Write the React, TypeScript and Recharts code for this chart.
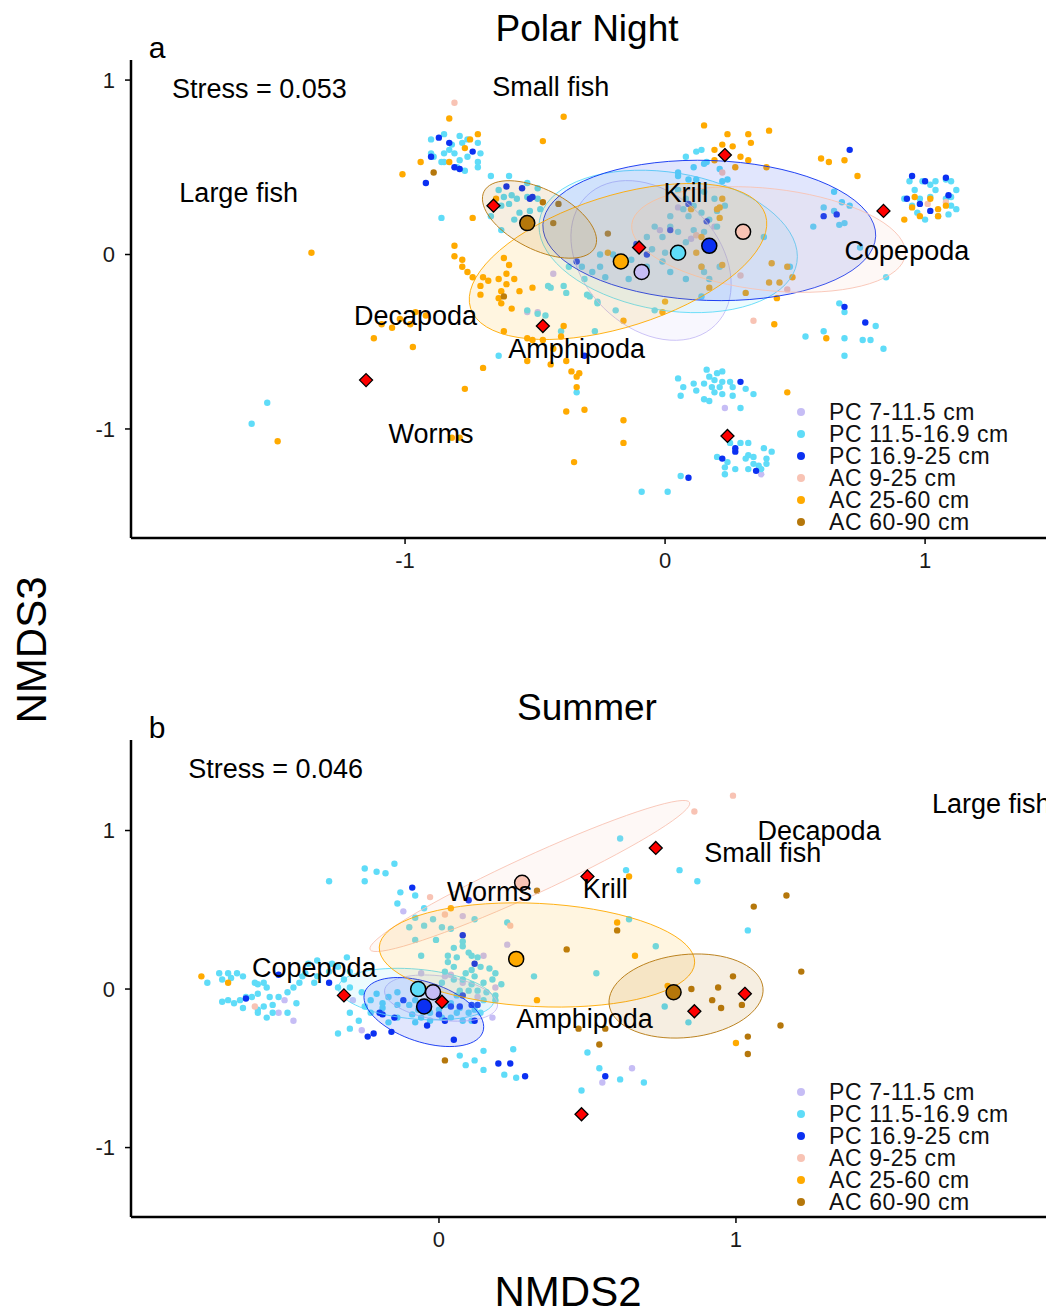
import { ScatterChart, Scatter, XAxis, YAxis, Legend } from "recharts";

type Pt = [number, number];
// ellipse: centre x, centre y, first semi-axis (x, y), second semi-axis (x, y) in data units
type Ell = [number, number, number, number, number, number];

const FONT = '"Liberation Sans", Arial, Helvetica, sans-serif';

const groupNames = ["PC 7-11.5 cm", "PC 11.5-16.9 cm", "PC 16.9-25 cm", "AC 9-25 cm", "AC 25-60 cm", "AC 60-90 cm"];
const groupColors = ["#c6bdf5", "#5fdcf8", "#0b30f2", "#f8c3b4", "#ffaa00", "#b5770b"];

// ---------- a: Polar Night ----------
const nightPC7: Pt[] = [
  [-0.43, -0.11], [-0.53, -0.33], [-0.49, -0.33], [0.05, 0.27], [0.19, 0.16], [0.10, 0.09], [-0.02, 0.14],
  [0.23, -0.88], [0.37, -1.26],
];
const nightPC11: Pt[] = [
  [-0.90, 0.66], [-0.85, 0.69], [-0.82, 0.63], [-0.79, 0.68], [-0.78, 0.64], [-0.76, 0.66], [-0.72, 0.64],
  [-0.71, 0.58], [-0.72, 0.53], [-0.72, 0.50], [-0.76, 0.56], [-0.79, 0.54], [-0.81, 0.58], [-0.83, 0.60],
  [-0.85, 0.58], [-0.85, 0.53], [-0.86, 0.53], [-0.89, 0.56], [-0.90, 0.58], [-0.80, 0.50], [-0.77, 0.48],
  [-0.86, 0.21],
  [-0.67, 0.45], [-0.60, 0.45], [-0.53, 0.41], [-0.49, 0.38], [-0.64, 0.37], [-0.62, 0.33], [-0.59, 0.34],
  [-0.57, 0.32], [-0.53, 0.33], [-0.49, 0.32], [-0.60, 0.29], [-0.63, 0.28], [-0.56, 0.24], [-0.52, 0.25],
  [-0.58, 0.20], [-0.63, 0.14], [-0.53, 0.16], [-0.67, 0.22], [-0.48, 0.26],
  [-0.53, -0.32], [-0.49, -0.34], [-0.46, -0.35], [-0.45, -0.18], [-0.39, -0.18], [-0.30, -0.23], [-0.27, -0.44],
  [-0.40, -0.44], [-0.25, 0.00], [-0.20, 0.00], [-0.26, -0.27], [-0.64, -0.58], [-1.53, -0.85], [-1.59, -0.97],
  [-0.34, -0.79],
  [0.05, 0.37], [0.09, 0.43], [0.12, 0.43], [0.11, 0.28], [0.07, 0.26], [0.02, 0.22], [0.09, 0.22], [0.14, 0.24],
  [0.17, 0.20], [0.20, 0.25], [0.02, 0.16], [-0.04, 0.16], [-0.07, 0.10], [-0.01, 0.10], [0.05, 0.13], [0.11, 0.14],
  [0.15, 0.13], [0.08, 0.07], [0.00, 0.01], [-0.05, 0.03], [-0.11, 0.05], [-0.13, -0.03], [-0.19, -0.03],
  [-0.25, -0.07], [-0.28, -0.10], [-0.32, -0.07], [-0.23, -0.13], [-0.07, -0.07], [0.08, -0.14], [0.15, -0.10],
  [0.21, -0.07], [0.14, -0.07], [-0.01, -0.04], [-0.37, -0.07], [-0.31, -0.14], [-0.14, -0.14], [0.02, -0.10],
  [0.20, 0.16], [0.23, 0.28], [0.19, 0.32], [0.15, 0.36], [0.05, 0.45], [0.08, 0.32], [-0.38, -0.22],
  [-0.44, -0.19], [-0.29, -0.24], [-0.26, -0.28], [-0.19, -0.32], [-0.04, -0.32], [0.14, -0.24], [0.17, -0.14],
  [0.38, 0.10], [0.48, -0.07],
  [0.08, 0.56], [0.12, 0.59], [0.16, 0.53], [0.11, 0.50], [0.05, 0.47], [0.24, 0.43], [0.21, 0.49], [0.14, 0.60],
  [0.22, 0.42], [0.15, 0.52],
  [0.65, 0.36], [0.68, 0.30], [0.61, 0.27], [0.65, 0.25], [0.71, 0.28], [0.67, 0.17], [0.69, 0.18], [0.57, 0.16],
  [0.75, 0.04], [0.85, -0.13], [0.67, -0.28], [0.69, -0.33], [0.81, -0.41], [0.79, -0.49], [0.76, -0.49],
  [0.69, -0.48], [0.61, -0.44], [0.54, -0.47], [0.84, -0.54], [0.69, -0.58],
  [0.94, 0.42], [0.96, 0.37], [0.99, 0.42], [1.02, 0.40], [1.04, 0.42], [1.08, 0.43], [1.10, 0.42], [1.12, 0.37],
  [1.10, 0.33], [1.08, 0.32], [1.10, 0.28], [1.12, 0.26], [1.09, 0.23], [1.05, 0.22], [1.00, 0.20], [0.97, 0.24],
  [0.95, 0.28], [0.92, 0.32], [1.04, 0.37], [1.02, 0.33], [0.98, 0.32],
  [0.16, -0.66], [0.22, -0.67], [0.20, -0.68], [0.17, -0.70], [0.19, -0.72], [0.22, -0.73], [0.25, -0.73],
  [0.15, -0.74], [0.18, -0.76], [0.21, -0.76], [0.26, -0.76], [0.05, -0.71], [0.07, -0.76], [0.11, -0.74],
  [0.12, -0.78], [0.15, -0.83], [0.17, -0.84], [0.19, -0.79], [0.22, -0.80], [0.26, -0.81], [0.31, -0.77],
  [0.34, -0.80], [0.06, -0.81], [0.29, -0.88],
  [0.29, -1.08], [0.32, -1.08], [0.38, -1.11], [0.41, -1.13], [0.32, -1.15], [0.31, -1.17], [0.34, -1.16],
  [0.39, -1.17], [0.39, -1.20], [0.36, -1.21], [0.34, -1.20], [0.37, -1.23], [0.32, -1.23], [0.27, -1.23],
  [0.23, -1.22], [0.24, -1.19], [0.20, -1.16], [0.25, -1.08], [0.23, -1.26], [0.06, -1.27], [0.01, -1.36],
  [-0.09, -1.36],
];
const nightPC16: Pt[] = [
  [-0.87, 0.67], [-0.83, 0.64], [-0.74, 0.59], [-0.90, 0.56], [-0.81, 0.50], [-0.79, 0.49], [-0.92, 0.41],
  [-0.61, 0.39], [-0.55, 0.38], [-0.52, 0.32], [-0.51, 0.33], [-0.31, -0.58], [-0.34, -0.04], [-0.11, 0.06],
  [-0.07, 0.00], [0.02, 0.14], [0.09, 0.29], [0.16, 0.19], [0.71, 0.60], [0.61, 0.22], [0.66, 0.23],
  [0.69, -0.30], [0.77, -0.39], [0.95, 0.45], [1.00, 0.42], [1.08, 0.44], [1.09, 0.34], [0.93, 0.32],
  [0.98, 0.29], [1.02, 0.25], [0.29, -0.73], [0.27, -1.11], [0.27, -1.13], [0.22, -1.17], [0.35, -1.24],
  [0.09, -1.28],
];
const nightAC9: Pt[] = [
  [-0.81, 0.87], [0.22, 0.47], [0.29, -0.12], [0.47, -0.20], [0.34, -0.38], [0.12, 0.11], [1.01, 0.29], [1.08, 0.30],
];
const nightAC25: Pt[] = [
  [-0.72, 0.69], [-0.75, 0.66], [-0.77, 0.61], [-0.94, 0.53], [-1.01, 0.46], [-0.83, 0.53], [-0.83, 0.78],
  [-0.47, 0.65], [-0.39, 0.79], [0.15, 0.74], [-1.36, 0.01], [-0.74, 0.21], [-0.65, 0.32],
  [-0.81, 0.05], [-0.81, -0.01], [-0.78, -0.03], [-0.78, -0.07], [-0.76, -0.10], [-0.74, -0.13], [-0.70, -0.13],
  [-0.68, -0.15], [-0.71, -0.18], [-0.71, -0.23], [-0.64, -0.14], [-0.62, -0.02], [-0.60, -0.06], [-0.61, -0.11],
  [-0.58, -0.14], [-0.61, -0.17], [-0.63, -0.21], [-0.64, -0.25], [-0.63, -0.28], [-0.56, -0.21], [-0.51, -0.19],
  [-0.59, -0.31], [-0.62, -0.44], [-0.53, -0.48], [-0.51, -0.49], [-0.47, -0.49], [-0.39, -0.41], [-0.40, -0.47],
  [-0.43, -0.54], [-0.53, -0.61], [-0.44, -0.63], [-0.38, -0.61], [-0.36, -0.67], [-0.34, -0.70], [-0.33, -0.68],
  [-0.34, -0.76], [-0.38, -0.90], [-0.31, -0.89], [-0.16, -0.95], [-0.16, -1.08], [-0.35, -1.19], [-0.16, -0.38],
  [-0.70, -0.65], [-0.77, -0.77], [-0.97, -0.53], [-1.12, -0.48], [-1.09, -0.40], [-1.05, -0.42], [-0.98, -0.40],
  [-1.02, -0.37], [-0.96, -0.33], [-0.92, -0.35], [-1.49, -1.07], [-0.82, -1.05], [-0.79, -1.05],
  [-0.22, 0.01], [0.12, 0.01], [0.21, 0.27], [0.21, 0.21], [0.14, -0.07], [0.17, -0.19], [0.00, -0.27], [-0.01, -0.33],
  [0.24, 0.69], [0.32, 0.69], [0.40, 0.71], [0.19, 0.60], [0.22, 0.63], [0.26, 0.62], [0.29, 0.56], [0.33, 0.64],
  [0.32, 0.54], [0.19, 0.54], [0.27, 0.50], [0.39, 0.50], [0.60, 0.55], [0.63, 0.53], [0.69, 0.54], [0.74, 0.45],
  [0.22, 0.32], [0.10, 0.26], [0.20, 0.26], [0.14, 0.10], [0.17, 0.03], [0.22, -0.06], [0.41, -0.05], [0.47, -0.07],
  [0.49, -0.13], [0.40, -0.16], [0.44, -0.16], [0.31, -0.22], [0.43, -0.25], [0.62, -0.48], [0.42, -0.40],
  [0.92, 0.20], [0.96, 0.33], [0.95, 0.27], [1.05, 0.26], [1.05, 0.22], [1.02, 0.32], [1.08, 0.28], [0.98, 0.22],
  [0.47, -0.79],
];
const nightAC60: Pt[] = [
  [-0.89, 0.47], [-0.47, 0.30], [-0.41, 0.29], [-0.43, 0.18], [-0.22, 0.12], [-0.62, -0.24],
];
const nightCentroids: Pt[] = [[-0.09, -0.10], [0.05, 0.01], [0.17, 0.05], [0.30, 0.13], [-0.17, -0.04], [-0.53, 0.18]];
const nightEllipses: Ell[] = [
  [-0.054, -0.034, 0.248, -0.369, -0.183, -0.271],
  [0.012, 0.075, 0.495, -0.121, -0.043, -0.390],
  [0.170, 0.138, 0.640, -0.033, -0.010, -0.401],
  [0.398, 0.086, 0.526, -0.087, -0.022, -0.290],
  [-0.181, -0.040, 0.567, 0.268, 0.077, -0.358],
  [-0.483, 0.201, 0.213, -0.161, -0.053, -0.153],
];
const nightPrey: Pt[] = [[-0.66, 0.28], [-0.10, 0.04], [0.23, 0.57], [0.84, 0.25], [-0.47, -0.41], [-1.15, -0.72], [0.24, -1.04]];
const nightLabels = ["Stress = 0.053", "Small fish", "Large fish", "Krill", "Copepoda", "Decapoda", "Amphipoda", "Worms"];
const nightLabelPos: Pt[] = [[-1.56, 0.95], [-0.44, 0.96], [-1.64, 0.35], [0.08, 0.35], [0.93, 0.02], [-0.96, -0.35], [-0.34, -0.54], [-0.90, -1.03]];

// ---------- b: Summer ----------
const summerPC7: Pt[] = [
  [-0.54, -0.15], [-0.49, -0.20], [-0.52, -0.07], [-0.29, -0.07], [-0.26, -0.26], [-0.12, 0.49], [0.08, 0.46],
  [0.23, 0.28], [0.15, 0.21], [0.19, 0.01], [0.18, -0.18], [0.04, 0.09], [0.02, 0.08], [-0.06, 0.10], [0.13, -0.05],
  [0.00, -0.05], [0.08, 0.04], [0.65, -0.50], [0.55, -0.59],
];
const summerPC11: Pt[] = [
  [-0.74, 0.10], [-0.71, 0.10], [-0.68, 0.10], [-0.78, 0.04], [-0.73, 0.06], [-0.70, 0.07], [-0.66, 0.08],
  [-0.62, 0.04], [-0.59, 0.04], [-0.58, 0.01], [-0.61, -0.03], [-0.63, -0.05], [-0.57, -0.05], [-0.54, -0.05],
  [-0.51, -0.02], [-0.49, 0.01], [-0.48, -0.09], [-0.47, 0.04], [-0.46, 0.08], [-0.73, -0.08], [-0.71, -0.07],
  [-0.69, -0.09], [-0.67, -0.07], [-0.66, -0.12], [-0.61, -0.13], [-0.61, -0.15], [-0.58, -0.18], [-0.56, -0.15],
  [-0.51, -0.15], [-0.65, -0.05], [-0.59, -0.11], [-0.56, -0.10], [-0.61, 0.03], [-0.45, 0.10], [-0.41, 0.08],
  [-0.42, 0.04], [-0.44, 0.16], [-0.41, 0.18], [-0.36, 0.16], [-0.34, 0.14], [-0.31, 0.20], [-0.30, 0.11],
  [-0.32, 0.06], [-0.34, 0.01], [-0.37, 0.11],
  [-0.21, -0.03], [-0.17, -0.05], [-0.19, -0.09], [-0.14, -0.02], [-0.14, -0.10], [-0.10, -0.10], [-0.08, -0.07],
  [-0.07, -0.02], [-0.07, -0.13], [-0.05, -0.11], [-0.03, -0.15], [0.00, -0.13], [0.02, -0.10], [0.04, -0.09],
  [0.06, -0.15], [0.07, -0.12], [0.10, -0.15], [0.12, -0.13], [0.14, -0.15], [0.08, -0.20], [0.11, -0.20],
  [0.04, -0.18], [0.01, -0.18], [-0.03, -0.20], [-0.06, -0.18], [-0.09, -0.16], [-0.14, -0.18], [-0.17, -0.21],
  [-0.23, -0.15], [-0.25, -0.11], [-0.23, -0.07], [-0.26, -0.02], [-0.30, 0.01], [-0.30, -0.15], [-0.27, -0.20],
  [-0.34, -0.28], [-0.30, -0.25], [-0.19, -0.12], [-0.08, -0.21], [0.10, -0.01], [0.15, 0.04], [0.18, 0.06],
  [0.16, -0.02], [0.19, -0.04], [0.15, -0.07], [0.11, 0.03], [0.13, -0.01], [0.07, -0.01], [0.19, -0.07],
  [0.21, 0.03], [0.06, -0.04],
  [-0.10, 0.39], [-0.08, 0.31], [-0.05, 0.40], [-0.02, 0.44], [0.01, 0.39], [0.04, 0.38], [0.12, 0.44],
  [0.08, 0.30], [-0.01, 0.31], [0.05, 0.26], [0.08, 0.27], [0.10, 0.23], [0.06, 0.20], [0.03, 0.21], [0.03, 0.17],
  [0.11, 0.21], [0.13, 0.20], [0.14, 0.14], [0.11, 0.12], [0.12, 0.08], [0.09, 0.10], [0.05, 0.14], [0.02, 0.11],
  [0.05, 0.06], [0.08, 0.06], [0.17, 0.13], [0.19, 0.10], [-0.14, 0.54], [-0.13, 0.61], [-0.08, 0.59],
  [-0.05, 0.51], [-0.08, 0.45], [0.01, 0.04], [-0.06, 0.21],
  [-0.37, 0.68], [-0.25, 0.68], [-0.25, 0.76], [-0.21, 0.74], [-0.18, 0.73], [-0.15, 0.79],
  [0.07, -0.42], [0.15, -0.39], [0.25, -0.38], [0.09, -0.48], [0.12, -0.45],
  [0.61, 0.95], [0.63, 0.75], [0.81, 0.75], [0.87, 0.68], [1.04, 0.37], [0.64, 0.44], [0.23, 0.42], [0.73, 0.27],
  [0.53, 0.10], [0.32, 0.08], [0.76, -0.11], [0.84, -0.21], [0.50, -0.40], [0.54, -0.50], [0.61, -0.57],
  [0.69, -0.59], [0.48, -0.64], [0.22, -0.54], [0.26, -0.56], [0.15, -0.51],
];
const summerPC16: Pt[] = [
  [-0.65, -0.06], [-0.54, 0.09], [-0.37, 0.04], [-0.24, -0.30], [-0.22, -0.28], [-0.16, -0.27], [0.05, -0.32],
  [0.08, 0.34], [-0.09, 0.64], [0.10, 0.56], [0.12, 0.16], [0.13, -0.10], [0.12, -0.20], [-0.04, -0.23],
  [0.02, -0.20], [0.08, -0.04], [0.04, -0.11], [0.07, -0.11], [0.20, -0.47], [0.24, -0.47], [-0.20, -0.15],
  [-0.19, -0.16], [-0.15, -0.18], [-0.12, -0.07], [0.00, -0.16], [0.11, -0.10], [0.29, -0.55], [0.56, -0.55],
];
const summerAC9: Pt[] = [[-0.62, -0.11], [-0.03, 0.58], [0.02, 0.47], [0.24, 0.40], [0.99, 1.22], [0.86, 1.12]];
const summerAC25: Pt[] = [
  [-0.80, 0.08], [-0.71, 0.04], [0.04, 0.51], [0.33, -0.07], [0.64, 0.71], [0.60, 0.42], [0.66, 0.21], [0.77, 0.02],
  [1.00, -0.34],
];
const summerAC60: Pt[] = [
  [0.33, 0.62], [1.17, 0.59], [1.06, 0.52], [0.60, 0.37], [0.43, 0.25], [1.22, 0.11], [0.99, 0.08], [0.94, 0.01],
  [0.85, 0.00], [0.92, -0.07], [0.95, -0.12], [1.02, -0.10], [1.15, -0.23], [1.04, -0.30], [1.04, -0.41],
  [0.54, -0.35], [0.47, -0.25], [0.56, -0.25], [0.02, -0.45],
];
const summerCentroids: Pt[] = [[-0.02, -0.02], [-0.07, 0.00], [-0.05, -0.11], [0.28, 0.67], [0.26, 0.19], [0.79, -0.02]];
const summerEllipses: Ell[] = [
  [0.007, -0.057, 0.190, -0.050, -0.010, -0.137],
  [-0.077, -0.032, 0.262, -0.043, -0.007, -0.157],
  [-0.051, -0.145, 0.199, -0.124, -0.032, -0.179],
  [0.306, 0.713, 0.538, 0.464, 0.027, -0.109],
  [0.330, 0.215, 0.531, -0.050, -0.009, -0.325],
  [0.832, -0.044, 0.259, 0.053, 0.015, -0.260],
];
const summerPrey: Pt[] = [[-0.32, -0.04], [0.01, -0.08], [0.50, 0.71], [0.73, 0.89], [0.86, -0.14], [1.03, -0.03], [0.48, -0.79]];
const summerLabels = ["Stress = 0.046", "Large fish", "Decapoda", "Small fish", "Krill", "Worms", "Copepoda", "Amphipoda"];
const summerLabelPos: Pt[] = [[-0.55, 1.39], [1.86, 1.17], [1.28, 1.0], [1.09, 0.86], [0.56, 0.63], [0.17, 0.61], [-0.42, 0.13], [0.49, -0.19]];

const toXY = (pts: Pt[]) => pts.map(([x, y]) => ({ x, y }));

function outline(e: Ell) {
  const [cx, cy, ux, uy, vx, vy] = e;
  const out: { x: number; y: number }[] = [];
  for (let i = 0; i < 72; i++) {
    const t = (i / 72) * Math.PI * 2;
    out.push({ x: cx + ux * Math.cos(t) + vx * Math.sin(t), y: cy + uy * Math.cos(t) + vy * Math.sin(t) });
  }
  return out;
}

const dot = (color: string) => (p: any) => <circle cx={p.cx} cy={p.cy} r={3.2} fill={color} />;
const centroid = (color: string) => (p: any) => (
  <circle cx={p.cx} cy={p.cy} r={7.5} fill={color} stroke="#000" strokeWidth={1.5} />
);
const diamond = (p: any) => (
  <polygon
    points={`${p.cx},${p.cy - 6.5} ${p.cx + 6.5},${p.cy} ${p.cx},${p.cy + 6.5} ${p.cx - 6.5},${p.cy}`}
    fill="#ff0000"
    stroke="#000"
    strokeWidth={1.3}
  />
);
const textMark = (p: any) => (
  <text x={p.cx} y={p.cy} textAnchor="middle" dominantBaseline="central" fontSize={27} fontFamily={FONT} fill="#000">
    {p.payload.name}
  </text>
);

const renderLegend = (props: any) => {
  const items = (props.payload || [])
    .filter((e: any) => groupNames.includes(e.value))
    .sort((a: any, b: any) => groupNames.indexOf(a.value) - groupNames.indexOf(b.value));
  return (
    <div style={{ fontFamily: FONT }}>
      {items.map((e: any) => (
        <div key={e.value} style={{ display: "flex", alignItems: "center", height: 22 }}>
          <span style={{ width: 8, height: 8, borderRadius: 4, background: e.color, marginLeft: 5, marginRight: 24 }} />
          <span style={{ fontSize: 23, letterSpacing: 0.6, lineHeight: "22px", color: "#111", whiteSpace: "nowrap" }}>{e.value}</span>
        </div>
      ))}
    </div>
  );
};

interface PanelProps {
  top: number;
  bottomMargin: number;
  xDomain: [number, number];
  yDomain: [number, number];
  xTicks: number[];
  yTicks: number[];
  groups: Pt[][];
  centroids: Pt[];
  ellipses: Ell[];
  prey: Pt[];
  labels: string[];
  labelPos: Pt[];
}

function Panel({ top, bottomMargin, xDomain, yDomain, xTicks, yTicks, groups, centroids, ellipses, prey, labels, labelPos }: PanelProps) {
  const tick = { fill: "#1a1a1a", fontSize: 22, fontFamily: FONT };
  const labelData = labels.map((name, i) => ({ name, x: labelPos[i][0], y: labelPos[i][1] }));
  return (
    <div style={{ position: "absolute", left: 0, top }}>
      <ScatterChart width={1046} height={600} margin={{ top: 60, right: 0, bottom: bottomMargin, left: 81 }}>
        <XAxis
          type="number" dataKey="x" domain={xDomain} ticks={xTicks} allowDataOverflow height={40}
          axisLine={{ stroke: "#000", strokeWidth: 2.5 }} tickLine={{ stroke: "#000", strokeWidth: 1.5 }}
          tickSize={6} tickMargin={8} tick={tick}
        />
        <YAxis
          type="number" dataKey="y" domain={yDomain} ticks={yTicks} allowDataOverflow width={50}
          axisLine={{ stroke: "#000", strokeWidth: 2.5 }} tickLine={{ stroke: "#000", strokeWidth: 1.5 }}
          tickSize={6} tickMargin={10} tick={tick}
        />
        {groups.map((g, i) => (
          <Scatter key={`pts${i}`} name={groupNames[i]} data={toXY(g)} fill={groupColors[i]} shape={dot(groupColors[i])} isAnimationActive={false} />
        ))}
        {ellipses.map((e, i) => (
          <Scatter
            key={`ell${i}`} name={`ellipse ${i}`} data={outline(e)} legendType="none" shape={() => <g />}
            line={{ fill: groupColors[i], fillOpacity: 0.12, stroke: groupColors[i], strokeWidth: 1, strokeOpacity: 0.9 }}
            lineType="joint" lineJointType="linearClosed" isAnimationActive={false}
          />
        ))}
        {centroids.map((c, i) => (
          <Scatter key={`cen${i}`} name={`centroid ${i}`} data={toXY([c])} legendType="none" shape={centroid(groupColors[i])} isAnimationActive={false} />
        ))}
        <Scatter name="prey" data={toXY(prey)} legendType="none" shape={diamond} isAnimationActive={false} />
        <Scatter name="labels" data={labelData} legendType="none" shape={textMark} isAnimationActive={false} />
        <Legend
          layout="vertical" align="center" verticalAlign="middle" content={renderLegend}
          wrapperStyle={{ left: 792, top: 401, width: 254 }}
        />
      </ScatterChart>
    </div>
  );
}

export default function App() {
  return (
    <div style={{ position: "absolute", left: 0, top: 0, width: 1046, height: 1315, background: "#fff", overflow: "hidden" }}>
      <Panel
        top={0} bottomMargin={22}
        xDomain={[-2.054, 1.465]} yDomain={[-1.625, 1.115]} xTicks={[-1, 0, 1]} yTicks={[-1, 0, 1]}
        groups={[nightPC7, nightPC11, nightPC16, nightAC9, nightAC25, nightAC60]}
        centroids={nightCentroids} ellipses={nightEllipses} prey={nightPrey}
        labels={nightLabels} labelPos={nightLabelPos}
      />
      <Panel
        top={680} bottomMargin={23}
        xDomain={[-1.037, 2.044]} yDomain={[-1.438, 1.571]} xTicks={[0, 1]} yTicks={[-1, 0, 1]}
        groups={[summerPC7, summerPC11, summerPC16, summerAC9, summerAC25, summerAC60]}
        centroids={summerCentroids} ellipses={summerEllipses} prey={summerPrey}
        labels={summerLabels} labelPos={summerLabelPos}
      />
      <svg width={1046} height={1315} style={{ position: "absolute", left: 0, top: 0, pointerEvents: "none" }}>
        <g fontFamily={FONT} fill="#000">
          <text x={587} y={41} fontSize={37} textAnchor="middle">Polar Night</text>
          <text x={587} y={720} fontSize={37} textAnchor="middle">Summer</text>
          <text x={157} y={58} fontSize={30} textAnchor="middle">a</text>
          <text x={157} y={738} fontSize={30} textAnchor="middle">b</text>
          <text x={568} y={1306} fontSize={42} textAnchor="middle">NMDS2</text>
          <text x={46} y={650} fontSize={42} textAnchor="middle" transform="rotate(-90 46 650)">NMDS3</text>
        </g>
      </svg>
    </div>
  );
}
